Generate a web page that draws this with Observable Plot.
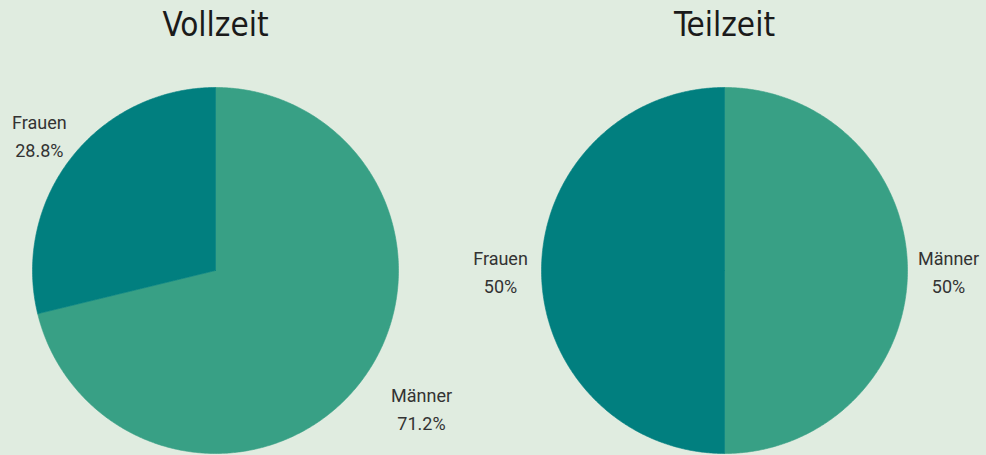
<!DOCTYPE html>
<html><head><meta charset="utf-8">
<script src="https://cdn.jsdelivr.net/npm/d3@7"></script>
<script src="https://cdn.jsdelivr.net/npm/@observablehq/plot@0.6"></script>
<style>html,body{margin:0;padding:0;background:#e0ece0;overflow:hidden}</style>
</head><body><div id="chart"></div>
<script>
// ---- data ----
const charts = ["Vollzeit", "Teilzeit"];
const categories = ["Männer", "Frauen"];
const vollzeitValues = [71.2, 28.8];
const teilzeitValues = [50, 50];
const vollzeitLabels = ["71.2%", "28.8%"];
const teilzeitLabels = ["50%", "50%"];

// ---- layout / style constants ----
const W = 986, H = 455;
const centersX = [215, 724], centerY = 270, radius = 183;
const colors = ["#38a085", "#017f7f"];
const labelRx = {"Vollzeit|Männer": 262};
const defaultRx = 224, defaultRy = 221;

const seriesValues = [vollzeitValues, teilzeitValues];
const seriesLabels = [vollzeitLabels, teilzeitLabels];

const slicePts = [];
const labels = [];
const titles = [];
charts.forEach((name, ci) => {
  const cx = centersX[ci];
  titles.push({x: cx, y: 25, text: name});
  const arcs = d3.pie().sort(null).value(d => d)(seriesValues[ci]);
  arcs.forEach((a, si) => {
    const key = name + "|" + categories[si];
    const n = Math.max(2, Math.ceil((a.endAngle - a.startAngle) / (Math.PI / 360)));
    slicePts.push({key, cat: categories[si], x: cx, y: centerY});
    for (let k = 0; k <= n; k++) {
      const t = a.startAngle + (a.endAngle - a.startAngle) * k / n;
      slicePts.push({key, cat: categories[si], x: cx + radius * Math.sin(t), y: centerY - radius * Math.cos(t)});
    }
    slicePts.push({key, cat: categories[si], x: cx, y: centerY});
    const mid = (a.startAngle + a.endAngle) / 2;
    const rx = labelRx[key] ?? defaultRx;
    labels.push({
      x: cx + rx * Math.sin(mid),
      y: centerY - defaultRy * Math.cos(mid),
      text: categories[si] + "\n" + seriesLabels[ci][si]
    });
  });
});

const plot = Plot.plot({
  width: W, height: H,
  margin: 0,
  x: {domain: [0, W], range: [0, W], axis: null},
  y: {domain: [0, H], range: [0, H], axis: null},
  color: {domain: categories, range: colors},
  style: {background: "#e0ece0"},
  marks: [
    Plot.line(slicePts, {x: "x", y: "y", z: "key", fill: "cat", stroke: "cat", strokeWidth: 0.6, curve: "linear"}),
    Plot.text(titles, {x: "x", y: "y", text: "text", fontSize: 33, fill: "#1a1a1a", fontFamily: "'Liberation Sans Narrow', 'DejaVu Sans Condensed', sans-serif"}),
    Plot.text(labels, {x: "x", y: "y", text: "text", fontSize: 18, lineHeight: 1.55, fill: "#333", fontFamily: "Roboto, sans-serif"})
  ]
});
document.getElementById("chart").appendChild(plot);
</script>
</body></html>
